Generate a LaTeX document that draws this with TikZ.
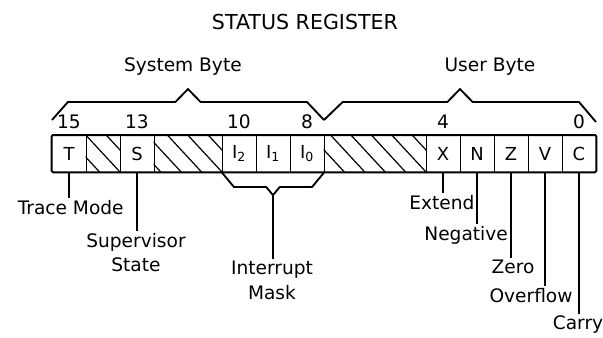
\documentclass[tikz,border=0pt]{standalone}
\usepackage{fontspec}
\setsansfont{DejaVu Sans}
\usetikzlibrary{positioning,backgrounds}

\begin{document}
\begin{tikzpicture}[
    x=0.9cm,y=0.9cm,
    font=\sffamily\fontsize{14}{18.5}\selectfont,
    background rectangle/.style={fill=white,draw=none},
    show background rectangle,
    cell/.style={
        minimum width=0.9cm,minimum height=0.972cm,inner sep=0pt,
        font=\sffamily\fontsize{13.5}{15}\selectfont
    },
    bitnum/.style={inner sep=1pt},
    lbl/.style={align=center,inner sep=1.5pt},
    title/.style={font=\sffamily\fontsize{15.5}{18}\selectfont},
    divider/.style={line width=0.9pt},
    lead/.style={line width=0.8pt},
    bracket/.style={line width=1.4pt,line join=round},
    hatch/.style={line width=0.9pt}
]
% Same proportions as the scanned figure, margins included.
\path[use as bounding box] (-1.529,-4.882) rectangle (16.206,5.059);

\node[title] (title) at (7.44,4.41) {STATUS REGISTER};

% The sixteen bits, 15 at the left.
\foreach \b/\t in {15/T,14/,13/S,12/,11/,10/{I\textsubscript{2}},
    9/{I\textsubscript{1}},8/{I\textsubscript{0}},7/,6/,5/,4/X,3/N,2/Z,1/V,0/C}
    \node[cell] (b\b) at (15.5-\b,0.54) {\t};

% Unused bits are hatched, with no dividers inside a run.
\begin{scope}
    \clip (b14.south west) rectangle (b14.north east)
          (b12.south west) rectangle (b11.north east)
          (b7.south west) rectangle (b5.north east);
    \foreach \x in {-0.2,0.4,...,12}
        \draw[hatch] (\x,1.08) -- ++(1,-1.08);
\end{scope}
\foreach \b in {15,14,13,11,10,9,8,5,4,3,2,1}
    \draw[divider] (b\b.north east) -- (b\b.south east);
\draw[line width=1.5pt,rounded corners=1pt]
    (b15.south west) rectangle (b0.north east);

\node[bitnum,above=1.2mm of b15] (n15) {15};
\node[bitnum,above=1.2mm of b13] (n13) {13};
\node[bitnum,above=1.2mm of b10] (n10) {10};
\node[bitnum,above=1.2mm of b8] (n8) {8};
\node[bitnum,above=1.2mm of b4] (n4) {4};
\node[bitnum,above=1.2mm of b0] (n0) {0};

% Byte brackets over the register.
\node (sysbyte) at (3.85,3.09) {System Byte};
\node (usrbyte) at (12.88,3.09) {User Byte};
\draw[bracket] (0,1.53) -- (0.47,2.06) -- (3.63,2.06) -- (4,2.44)
    -- (4.37,2.06) -- (7.5,2.06) -- (8,1.53);
\draw[bracket] (8,1.53) -- (8.55,2.06) -- (11.63,2.06) -- (12,2.44)
    -- (12.37,2.06) -- (15.5,2.06) -- (16,1.47);

% Bracket under the three mask bits.
\coordinate (mtip) at (6.5,-0.68);
\draw[bracket] (b10.south west) -- (5.35,-0.44) -- (6.3,-0.44) -- (mtip)
    -- (6.7,-0.44) -- (7.65,-0.44) -- (b8.south east);

\node[lbl] (trace) at (0.55,-1.05) {Trace Mode};
\node[lbl] (superv) at (2.47,-2.37) {Supervisor\\State};
\node[lbl] (intr) at (6.47,-3.19) {Interrupt\\Mask};
\node[lbl] (extend) at (11.47,-0.91) {Extend};
\node[lbl] (neg) at (12.18,-1.85) {Negative};
\node[lbl] (zero) at (13.56,-2.79) {Zero};
\node[lbl] (ovfl) at (14.09,-3.62) {Overflow};
\node[lbl] (carry) at (15.47,-4.5) {Carry};

\draw[lead] (b15.south) -- (b15.south |- trace.north);
\draw[lead] (b13.south) -- (b13.south |- superv.north);
\draw[lead] (mtip) -- (mtip |- intr.north);
\draw[lead] (b4.south) -- (b4.south |- extend.north);
\draw[lead] (b3.south) -- (b3.south |- neg.north);
\draw[lead] (b2.south) -- (b2.south |- zero.north);
\draw[lead] (b1.south) -- (b1.south |- ovfl.north);
\draw[lead] (b0.south) -- (b0.south |- carry.north);
\end{tikzpicture}
\end{document}
